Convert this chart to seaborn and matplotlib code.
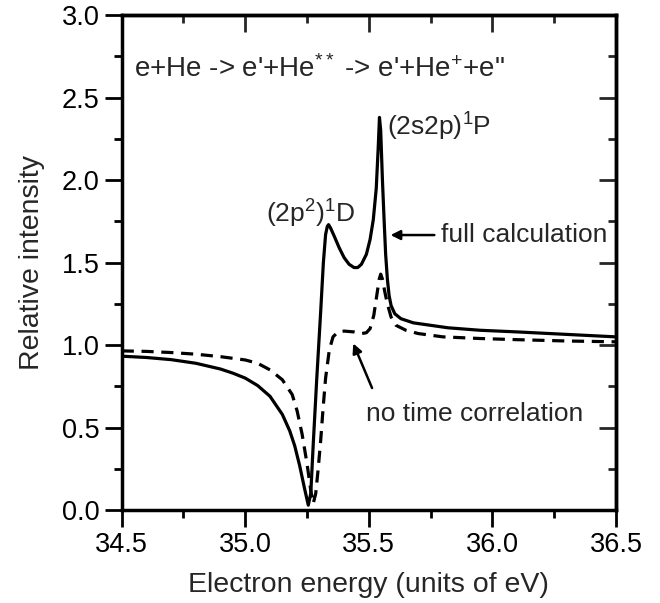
import numpy as np
import pandas as pd
import matplotlib
matplotlib.use("Agg")
import matplotlib.pyplot as plt
import seaborn as sns
from matplotlib.ticker import MultipleLocator

# ---- data ----
full_energy = [34.5, 34.6, 34.7, 34.8, 34.9, 34.95, 35.0, 35.05, 35.1, 35.15, 35.18, 35.2,
               35.22, 35.24, 35.255, 35.265, 35.275, 35.289, 35.305, 35.316, 35.325, 35.332,
               35.337, 35.345, 35.36, 35.38, 35.40, 35.42, 35.44, 35.455, 35.47, 35.49,
               35.505, 35.518, 35.53, 35.538, 35.543, 35.548, 35.555, 35.562, 35.568,
               35.575, 35.582, 35.59, 35.605, 35.63, 35.68, 35.75, 35.82, 35.95, 36.1,
               36.3, 36.5]
full_intensity = [0.933, 0.925, 0.912, 0.89, 0.855, 0.83, 0.80, 0.755, 0.69, 0.58, 0.48, 0.39,
                  0.27, 0.13, 0.03, 0.10, 0.40, 0.79, 1.20, 1.50, 1.67, 1.72,
                  1.73, 1.71, 1.66, 1.59, 1.53, 1.49, 1.47, 1.47, 1.49, 1.55,
                  1.64, 1.76, 1.95, 2.20, 2.38, 2.30, 2.00, 1.75, 1.55,
                  1.40, 1.30, 1.24, 1.19, 1.16, 1.135, 1.12, 1.105, 1.09, 1.08,
                  1.065, 1.05]

notc_energy = [34.5, 34.6, 34.7, 34.8, 34.9, 35.0, 35.05, 35.1, 35.15, 35.19, 35.21, 35.23,
               35.25, 35.265, 35.275, 35.285, 35.295, 35.305, 35.315, 35.325, 35.34, 35.355,
               35.375, 35.40, 35.44, 35.47, 35.49, 35.505, 35.52, 35.532, 35.542, 35.548,
               35.555, 35.565, 35.575, 35.59, 35.61, 35.65, 35.7, 35.8, 35.95, 36.1, 36.3, 36.5]
notc_intensity = [0.965, 0.962, 0.955, 0.945, 0.93, 0.91, 0.89, 0.85, 0.79, 0.70, 0.60, 0.46,
                  0.28, 0.12, 0.04, 0.10, 0.25, 0.42, 0.62, 0.80, 0.97, 1.05,
                  1.08, 1.085, 1.08, 1.07, 1.075, 1.10, 1.18, 1.30, 1.40, 1.43,
                  1.40, 1.32, 1.25, 1.17, 1.12, 1.09, 1.07, 1.05, 1.04, 1.033, 1.025, 1.02]

x_ticks = [34.5, 35.0, 35.5, 36.0, 36.5]
y_ticks = [0.0, 0.5, 1.0, 1.5, 2.0, 2.5, 3.0]

full_df = pd.DataFrame({"energy": full_energy, "intensity": full_intensity})
notc_df = pd.DataFrame({"energy": notc_energy, "intensity": notc_intensity})

# ---- style ----
sns.set_style("white")
plt.rcParams["font.family"] = ["Liberation Sans", "DejaVu Sans"]
plt.rcParams["mathtext.fontset"] = "custom"
plt.rcParams["mathtext.rm"] = "Liberation Sans"
plt.rcParams["mathtext.it"] = "Liberation Sans"

fig = plt.figure(figsize=(6.6, 6.03), dpi=100)
ax = fig.add_axes([0.1844, 0.154, 0.7489, 0.821])

sns.lineplot(data=full_df, x="energy", y="intensity", ax=ax, color="black",
             linewidth=2.3, sort=False, estimator=None)
sns.lineplot(data=notc_df, x="energy", y="intensity", ax=ax, color="black",
             linewidth=2.3, linestyle=(0, (3.8, 2.4)), sort=False, estimator=None)

ax.set_xlim(34.5, 36.5)
ax.set_ylim(0.0, 3.0)
ax.set_xticks(x_ticks)
ax.set_yticks(y_ticks)
ax.set_xticklabels([f"{v:.1f}" for v in x_ticks])
ax.set_yticklabels([f"{v:.1f}" for v in y_ticks])
ax.xaxis.set_minor_locator(MultipleLocator(0.25))
ax.yaxis.set_minor_locator(MultipleLocator(0.25))
ax.tick_params(axis="both", which="major", direction="out", length=12, width=2,
               labelsize=19.5, pad=4, color="black", labelcolor="black")
ax.tick_params(axis="both", which="minor", direction="out", length=6, width=2, color="black")
ax.tick_params(bottom=True, left=True, which="both")

for s in ax.spines.values():
    s.set_linewidth(2.5)
    s.set_color("black")

secx = ax.secondary_xaxis("top")
secx.set_xticks(x_ticks)
secx.xaxis.set_minor_locator(MultipleLocator(0.25))
secx.tick_params(axis="x", which="major", direction="in", length=12, width=2, labeltop=False)
secx.tick_params(axis="x", which="minor", direction="in", length=6, width=2)
secx.spines["top"].set_linewidth(2.5)

secy = ax.secondary_yaxis("right")
secy.set_yticks(y_ticks)
secy.yaxis.set_minor_locator(MultipleLocator(0.25))
secy.tick_params(axis="y", which="major", direction="in", length=12, width=2, labelright=False)
secy.tick_params(axis="y", which="minor", direction="in", length=6, width=2)
secy.spines["right"].set_linewidth(2.5)

ax.set_xlabel("Electron energy (units of eV)", fontsize=20.5, labelpad=10)
ax.set_ylabel("Relative intensity", fontsize=20.5, labelpad=12)

ax.text(34.55, 2.67, "e+He -> e'+He$^{**}$ -> e'+He$^{+}$+e\"", fontsize=20,
        ha="left", va="center")
ax.text(35.265, 1.74, "(2p$^{2}$)$^{1}$D", fontsize=19, ha="center", va="baseline")
ax.text(35.572, 2.27, "(2s2p)$^{1}$P", fontsize=19, ha="left", va="baseline")
ax.text(35.79, 1.667, "full calculation", fontsize=19, ha="left", va="center")
ax.text(35.49, 0.58, "no time correlation", fontsize=19, ha="left", va="center")

ax.annotate("", xy=(35.588, 1.667), xytext=(35.765, 1.667),
            arrowprops=dict(arrowstyle="-|>", color="black", lw=1.8,
                            mutation_scale=14, shrinkA=0, shrinkB=0))
ax.annotate("", xy=(35.437, 1.01), xytext=(35.513, 0.74),
            arrowprops=dict(arrowstyle="-|>", color="black", lw=1.8,
                            mutation_scale=14, shrinkA=0, shrinkB=0))

fig.savefig("out.png", dpi=100)
